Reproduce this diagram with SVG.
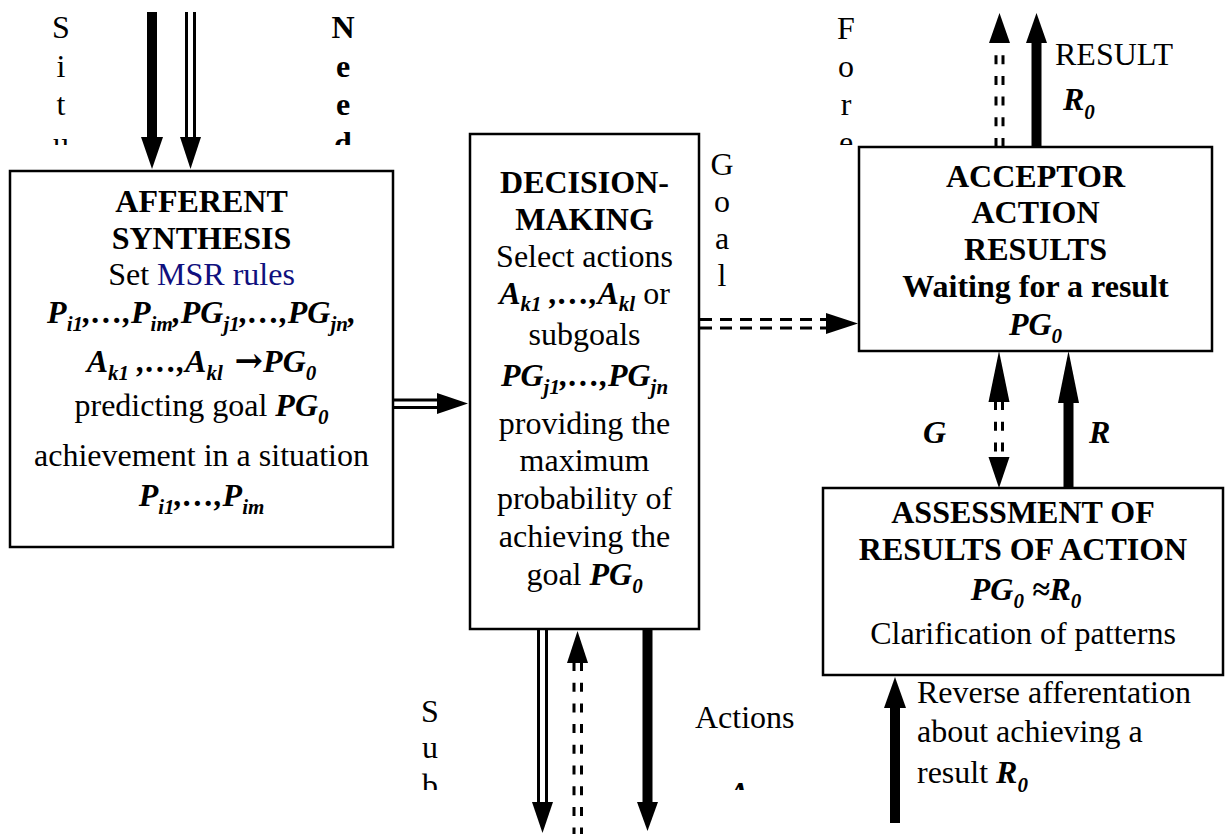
<svg xmlns="http://www.w3.org/2000/svg" width="1226" height="834" viewBox="0 0 1226 834">
<style>
text{font-family:"Liberation Serif","Times New Roman",serif;font-size:32px;fill:#000}
.c{text-anchor:middle}
.b{font-weight:bold}
.bi{font-weight:bold;font-style:italic}
.s{font-size:21px}
.arr{font-family:"DejaVu Serif","Liberation Serif",serif;font-style:normal;font-weight:bold;font-size:34px}
.blue{fill:#10107e}
.box{fill:#fff;stroke:#000;stroke-width:2.5}
.thick{stroke:#000;stroke-width:10;fill:none}
.dbl{stroke:#000;stroke-width:3;fill:none}
.dsh{stroke:#000;stroke-width:3;fill:none;stroke-dasharray:9 11.7}
.dshh{stroke:#000;stroke-width:3;fill:none;stroke-dasharray:12 8}
.head{fill:#000}
</style>
<defs>
<clipPath id="clipTop"><rect x="0" y="0" width="1226" height="145"/></clipPath>
<clipPath id="clipBot"><rect x="0" y="0" width="1226" height="790"/></clipPath>
</defs>

<g id="connectors">
  <line class="thick" x1="152" y1="12" x2="152" y2="140"/>
  <polygon class="head" points="141,137 152,169 163,137"/>
  <line class="dbl" x1="186.5" y1="12" x2="186.5" y2="140"/>
  <line class="dbl" x1="194.5" y1="12" x2="194.5" y2="140"/>
  <polygon class="head" points="180,137 190.5,169 201,137"/>
  <line class="dbl" x1="393" y1="400" x2="440" y2="400"/>
  <line class="dbl" x1="393" y1="407.5" x2="440" y2="407.5"/>
  <polygon class="head" points="437,393 468,403.5 437,414"/>
  <line class="dshh" x1="700" y1="319.5" x2="826" y2="319.5"/>
  <line class="dshh" x1="700" y1="328" x2="826" y2="328"/>
  <polygon class="head" points="826,313 858,323.5 826,334"/>
  <line class="dsh" x1="996" y1="147" x2="996" y2="44" stroke-dasharray="10 10.7"/>
  <line class="dsh" x1="1003" y1="147" x2="1003" y2="44" stroke-dasharray="10 10.7"/>
  <polygon class="head" points="989,43 999.5,13 1010,43"/>
  <line class="thick" x1="1036.5" y1="146" x2="1036.5" y2="40"/>
  <polygon class="head" points="1026,43 1036.5,13 1047,43"/>
  <line class="dsh" x1="995.5" y1="401" x2="995.5" y2="458" stroke-dasharray="9 11"/>
  <line class="dsh" x1="1002.5" y1="401" x2="1002.5" y2="458" stroke-dasharray="9 11"/>
  <polygon class="head" points="988.5,402 999,351 1009.5,402"/>
  <polygon class="head" points="988.5,457 999,488 1009.5,457"/>
  <line class="thick" x1="1068.5" y1="488" x2="1068.5" y2="400"/>
  <polygon class="head" points="1058,403 1068.5,351 1079,403"/>
  <line class="thick" x1="895" y1="823" x2="895" y2="705"/>
  <polygon class="head" points="884,708 895,677 906,708"/>
  <line class="dbl" x1="538.5" y1="629" x2="538.5" y2="805"/>
  <line class="dbl" x1="546.5" y1="629" x2="546.5" y2="805"/>
  <polygon class="head" points="532,802 542.5,833 553,802"/>
  <line class="dsh" x1="574" y1="662" x2="574" y2="834"/>
  <line class="dsh" x1="581.5" y1="662" x2="581.5" y2="834"/>
  <polygon class="head" points="567,663 577.5,631 588,663"/>
  <line class="thick" x1="647.5" y1="629" x2="647.5" y2="805"/>
  <polygon class="head" points="637,802 647.5,831 658,802"/>
</g>

<g id="labels">
  <g clip-path="url(#clipTop)">
    <text class="c" x="61"><tspan x="61" y="38">S</tspan><tspan x="61" y="77">i</tspan><tspan x="61" y="115">t</tspan><tspan x="61" y="154">u</tspan></text>
    <text class="c b" x="343"><tspan x="343" y="38">N</tspan><tspan x="343" y="77">e</tspan><tspan x="343" y="115">e</tspan><tspan x="343" y="154">d</tspan></text>
    <text class="c" x="846"><tspan x="846" y="39">F</tspan><tspan x="846" y="77">o</tspan><tspan x="846" y="115">r</tspan><tspan x="846" y="153">e</tspan></text>
  </g>
  <text class="c" x="722"><tspan x="722" y="175">G</tspan><tspan x="722" y="212">o</tspan><tspan x="722" y="249">a</tspan><tspan x="722" y="286">l</tspan></text>
  <text x="1055" y="65">RESULT</text>
  <text class="bi" x="1063" y="110">R<tspan class="s" dy="9">0</tspan></text>
  <text class="bi" x="923" y="443">G</text>
  <text class="bi" x="1089" y="443">R</text>
  <g clip-path="url(#clipBot)">
    <text class="c" x="430"><tspan x="430" y="722">S</tspan><tspan x="430" y="758">u</tspan><tspan x="430" y="796">b</tspan></text>
    <text class="bi" x="728" y="804">A</text>
  </g>
  <text x="695" y="728">Actions</text>
  <text x="917" y="703">Reverse afferentation</text>
  <text x="917" y="742">about achieving a</text>
  <text x="917" y="783">result <tspan class="bi">R</tspan><tspan class="bi s" dy="9">0</tspan></text>
</g>

<g id="afferent-synthesis">
  <rect class="box" x="10" y="171" width="383" height="376"/>
  <text class="c b" x="201.5" y="212">AFFERENT</text>
  <text class="c b" x="201.5" y="249">SYNTHESIS</text>
  <text class="c" x="201.5" y="285">Set <tspan class="blue">MSR rules</tspan></text>
  <text class="c bi" x="201.5" y="323">P<tspan class="s" dy="8">i1</tspan><tspan dy="-8">,…,P</tspan><tspan class="s" dy="8">im</tspan><tspan dy="-8">,PG</tspan><tspan class="s" dy="8">j1</tspan><tspan dy="-8">,…,PG</tspan><tspan class="s" dy="8">jn</tspan><tspan dy="-8">,</tspan></text>
  <text class="c bi" x="201.5" y="372">A<tspan class="s" dy="8">k1</tspan><tspan dy="-8"> ,…,A</tspan><tspan class="s" dy="8">kl</tspan><tspan class="arr" dy="-8"> →</tspan><tspan>PG</tspan><tspan class="s" dy="8">0</tspan></text>
  <text class="c" x="201.5" y="416">predicting goal <tspan class="bi">PG</tspan><tspan class="bi s" dy="8">0</tspan></text>
  <text class="c" x="201.5" y="466">achievement in a situation</text>
  <text class="c bi" x="201.5" y="506">P<tspan class="s" dy="8">i1</tspan><tspan dy="-8">,…,P</tspan><tspan class="s" dy="8">im</tspan></text>
</g>

<g id="decision-making">
  <rect class="box" x="470" y="134" width="229" height="495"/>
  <text class="c b" x="584.5" y="193">DECISION-</text>
  <text class="c b" x="584.5" y="230">MAKING</text>
  <text class="c" x="584.5" y="267">Select actions</text>
  <text class="c" x="584.5" y="304"><tspan class="bi">A</tspan><tspan class="bi s" dy="7">k1</tspan><tspan class="bi" dy="-7"> ,…,A</tspan><tspan class="bi s" dy="7">kl</tspan><tspan dy="-7"> or</tspan></text>
  <text class="c" x="584.5" y="345">subgoals</text>
  <text class="c bi" x="584.5" y="386">PG<tspan class="s" dy="8">j1</tspan><tspan dy="-8">,…,PG</tspan><tspan class="s" dy="8">jn</tspan></text>
  <text class="c" x="584.5" y="434">providing the</text>
  <text class="c" x="584.5" y="471">maximum</text>
  <text class="c" x="584.5" y="509">probability of</text>
  <text class="c" x="584.5" y="547">achieving the</text>
  <text class="c" x="584.5" y="585">goal <tspan class="bi">PG</tspan><tspan class="bi s" dy="8">0</tspan></text>
</g>

<g id="acceptor">
  <rect class="box" x="859" y="147" width="353" height="204"/>
  <text class="c b" x="1035.5" y="187">ACCEPTOR</text>
  <text class="c b" x="1035.5" y="223">ACTION</text>
  <text class="c b" x="1035.5" y="260">RESULTS</text>
  <text class="c b" x="1035.5" y="297">Waiting for a result</text>
  <text class="c bi" x="1035.5" y="335">PG<tspan class="s" dy="8">0</tspan></text>
</g>

<g id="assessment">
  <rect class="box" x="823" y="488" width="400" height="187"/>
  <text class="c b" x="1023" y="523">ASSESSMENT OF</text>
  <text class="c b" x="1023" y="560">RESULTS OF ACTION</text>
  <text class="c bi" x="1026" y="600">PG<tspan class="s" dy="8">0</tspan><tspan dy="-8"> ≈R</tspan><tspan class="s" dy="8">0</tspan></text>
  <text class="c" x="1023" y="644">Clarification of patterns</text>
</g>
</svg>
